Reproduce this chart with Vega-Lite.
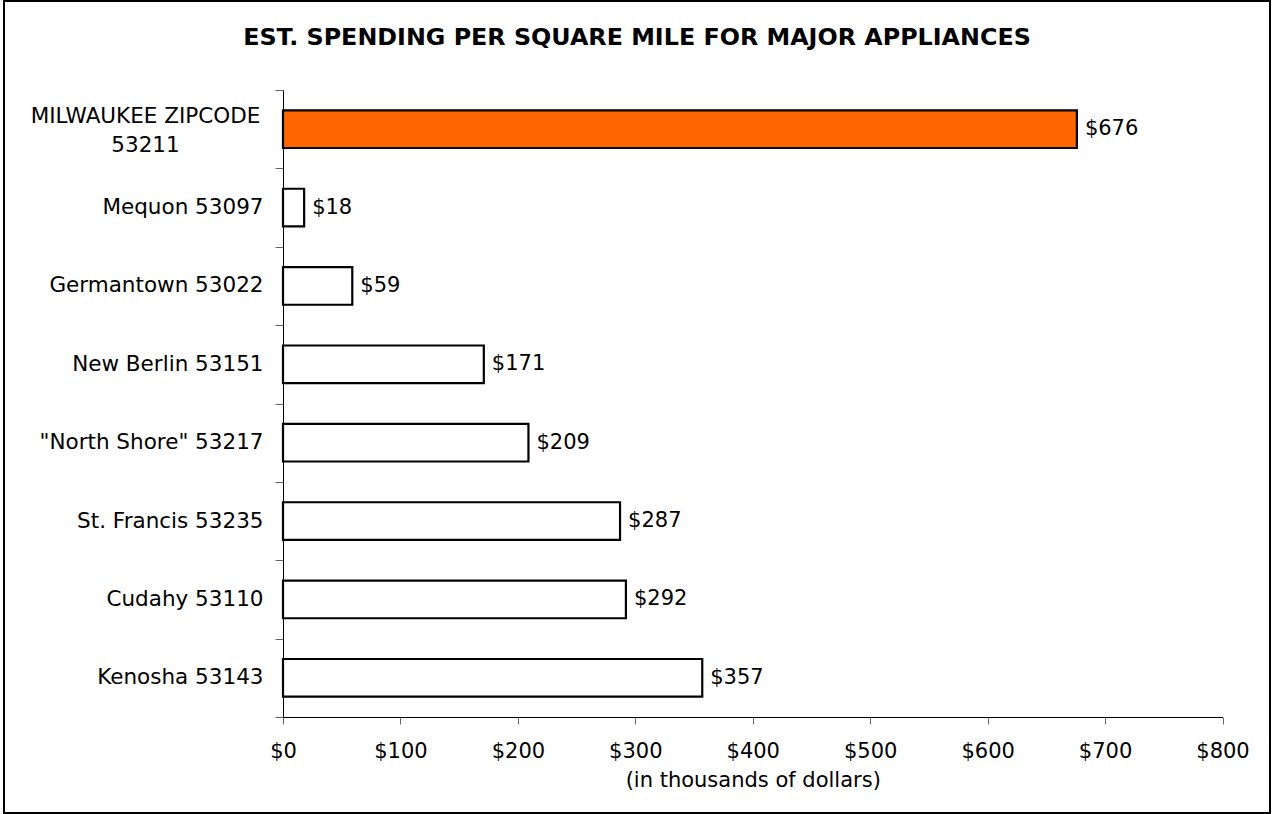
{
  "$schema": "https://vega.github.io/schema/vega-lite/v6.json",
  "autosize": {"type": "none"},
  "width": 1266,
  "height": 812,
  "padding": {"left": 4, "top": 1, "right": 3, "bottom": 1},
  "background": "white",
  "title": {
    "text": "EST. SPENDING PER SQUARE MILE FOR MAJOR APPLIANCES",
    "font": "DejaVu Sans",
    "fontSize": 23.8,
    "fontWeight": "bold",
    "color": "black",
    "anchor": "middle",
    "frame": "group",
    "baseline": "top",
    "offset": -60
  },
  "config": {
    "view": {"stroke": "black", "strokeWidth": 2},
    "font": "DejaVu Sans"
  },
  "data": {
    "values": [
      {"area": "MILWAUKEE ZIPCODE 53211", "value": 676, "highlight": "yes"},
      {"area": "Mequon 53097", "value": 18, "highlight": "no"},
      {"area": "Germantown 53022", "value": 59, "highlight": "no"},
      {"area": "New Berlin 53151", "value": 171, "highlight": "no"},
      {"area": "\"North Shore\" 53217", "value": 209, "highlight": "no"},
      {"area": "St. Francis 53235", "value": 287, "highlight": "no"},
      {"area": "Cudahy 53110", "value": 292, "highlight": "no"},
      {"area": "Kenosha 53143", "value": 357, "highlight": "no"}
    ]
  },
  "encoding": {
    "x": {
      "field": "value",
      "type": "quantitative",
      "scale": {"domain": [0, 800], "range": [279, 1218.5], "nice": false, "zero": true},
      "axis": {
        "title": "(in thousands of dollars)",
        "offset": -96,
        "values": [0, 100, 200, 300, 400, 500, 600, 700, 800],
        "format": "$,.0f",
        "grid": false,
        "labelFlush": false,
        "domainColor": "black",
        "domainWidth": 1,
        "tickColor": "#666666",
        "tickSize": 7,
        "labelPadding": 16,
        "labelFont": "DejaVu Sans",
        "labelFontSize": 21,
        "labelColor": "black",
        "titleFont": "DejaVu Sans",
        "titleFontSize": 21,
        "titleFontWeight": "normal",
        "titleColor": "black",
        "titlePadding": 8
      }
    }
  },
  "layer": [
    {
      "mark": {"type": "bar", "height": {"band": 0.48}, "stroke": "black", "strokeWidth": 2.2},
      "encoding": {
        "y": {
          "field": "area",
          "type": "nominal",
          "sort": null,
          "scale": {"range": [89, 716], "paddingInner": 0, "paddingOuter": 0},
          "axis": {
            "title": null,
            "orient": "left",
            "offset": -279,
            "tickBand": "extent",
            "domainColor": "black",
            "domainWidth": 1,
            "tickColor": "#666666",
            "tickSize": 8,
            "labelPadding": 12,
            "labelFont": "DejaVu Sans",
            "labelFontSize": 21.5,
            "labelColor": "black",
            "labelLimit": 400,
            "labelExpr": "datum.value == 'MILWAUKEE ZIPCODE 53211' ? '' : datum.label"
          }
        },
        "fill": {
          "field": "highlight",
          "type": "nominal",
          "scale": {"domain": ["yes", "no"], "range": ["#FF6600", "#FFFFFF"]},
          "legend": null
        }
      }
    },
    {
      "mark": {"type": "text", "align": "left", "baseline": "middle", "dx": 8, "font": "DejaVu Sans", "fontSize": 21, "color": "black"},
      "encoding": {
        "y": {
          "field": "area",
          "type": "nominal",
          "sort": null,
          "axis": {
            "title": null,
            "orient": "left",
            "offset": -279,
            "values": ["MILWAUKEE ZIPCODE 53211"],
            "domain": false,
            "ticks": false,
            "tickSize": 0,
            "labelAlign": "center",
            "labelPadding": 138,
            "labelOffset": -12,
            "labelFont": "DejaVu Sans",
            "labelFontSize": 21.5,
            "labelColor": "black",
            "labelLineHeight": 29,
            "labelLimit": 400,
            "labelExpr": "['MILWAUKEE ZIPCODE', '53211']"
          }
        },
        "text": {"field": "value", "type": "quantitative", "format": "$,.0f"}
      }
    }
  ],
  "resolve": {"axis": {"y": "independent"}}
}
